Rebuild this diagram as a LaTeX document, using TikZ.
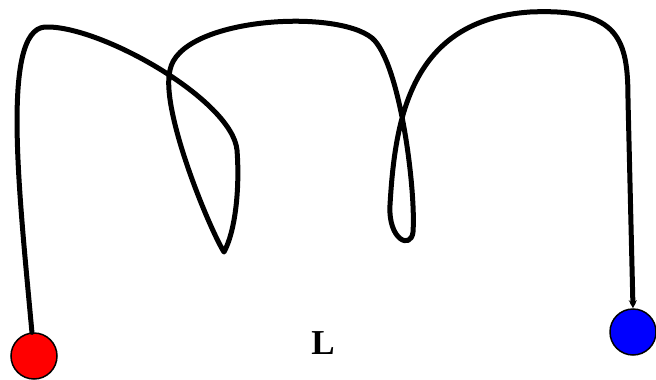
\documentclass[tikz,border=0pt]{standalone}
\usepackage{fontspec}
\setmainfont{Liberation Serif}
\usetikzlibrary{arrows.meta}
\tikzset{
  ball/.style={circle, draw=black, line width=1.5pt, minimum size=46pt, inner sep=0pt},
  rope/.style={line width=5pt, line cap=round, line join=round, -{Stealth[length=8pt,width=8pt]}}
}
\begin{document}
\begin{tikzpicture}[x=1pt,y=-1pt]
	\useasboundingbox (0,0) rectangle (656,380);
	%Les deux extremites
	\node[ball, fill=red] (start) at (34,356) {};
	\node[ball, fill=blue] (end) at (633,332) {};
	\node (L) at (323,343) {\fontsize{35}{40}\selectfont\bfseries L};
	%La corde
	\draw[rope] (start.95)
		.. controls (20,200) and (0,30) .. (45,27)
		.. controls (100,25) and (232,100) .. (237,150)
		.. controls (240,190) and (235,232) .. (224,252)
		.. controls (210,230) and (160,110) .. (170,70)
		.. controls (180,18) and (335,8) .. (372,38)
		.. controls (400,62) and (416,190) .. (413,232)
		.. controls (411,250) and (388,240) .. (390,205)
		.. controls (395,120) and (410,20) .. (530,12)
		.. controls (620,8) and (628,40) .. (628,100)
		-- (end.north);
\end{tikzpicture}
\end{document}
